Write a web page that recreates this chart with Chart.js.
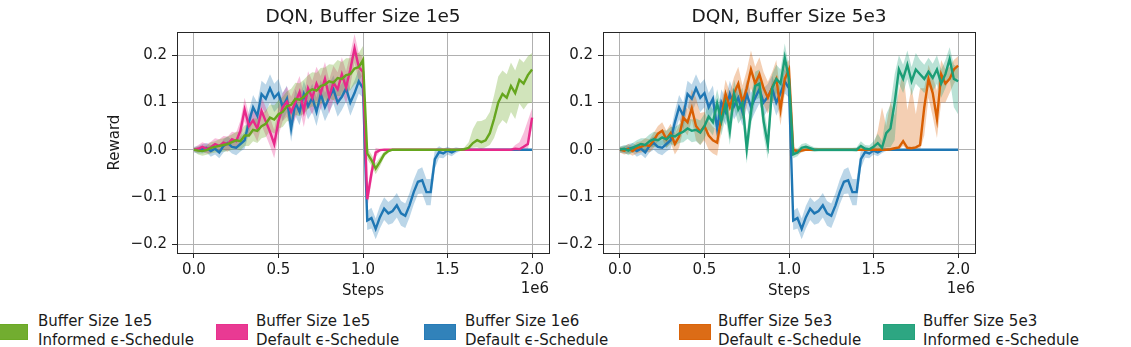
<!DOCTYPE html>
<html>
<head>
<meta charset="utf-8">
<script src="https://cdn.jsdelivr.net/npm/chart.js@4.4.1/dist/chart.umd.min.js"></script>
<style>
  body { margin: 0; background: #fff; }
  #wrap { position: relative; width: 1131px; height: 347px; overflow: hidden; background: #fff; font-family: 'DejaVu Sans', sans-serif; color: #1a1a1a; }
  canvas { position: absolute; top: 0; }
  .sw { position: absolute; top: 324px; width: 32px; height: 16px; box-sizing: border-box; }
  .tx { position: absolute; top: 312px; font-size: 15px; line-height: 19px; white-space: nowrap; }
</style>
</head>
<body>
<div id="wrap">
  <canvas id="left" width="565" height="300" style="left:0px"></canvas>
  <canvas id="right" width="581" height="300" style="left:550px"></canvas>
  <div id="legend"></div>
</div>
<script>
// steps are in units of 1e6
let steps = [0,0.025,0.05,0.075,0.1,0.125,0.15,0.175,0.2,0.225,
  0.25,0.275,0.3,0.325,0.35,0.375,0.4,0.425,0.45,0.475,
  0.5,0.525,0.55,0.575,0.6,0.625,0.65,0.675,0.7,0.725,
  0.75,0.775,0.8,0.825,0.85,0.875,0.9,0.925,0.95,0.975,
  1,1.025,1.05,1.075,1.1,1.125,1.15,1.175,1.2,1.225,
  1.25,1.275,1.3,1.325,1.35,1.375,1.4,1.425,1.45,1.475,
  1.5,1.525,1.55,1.575,1.6,1.625,1.65,1.675,1.7,1.725,
  1.75,1.775,1.8,1.825,1.85,1.875,1.9,1.925,1.95,1.975,
  2];
let xTicks = [0, 0.5, 1, 1.5, 2];
let yTicks = [-0.2, -0.1, 0, 0.1, 0.2];

// Buffer Size 1e5, informed schedule
let greenMean = [0,-0.002,-0.003,-0.001,0.004,0.006,0.008,0.010,0.012,0.016,
  0.020,0.018,0.030,0.030,0.042,0.040,0.050,0.055,0.068,0.064,
  0.075,0.080,0.092,0.095,0.108,0.106,0.112,0.122,0.128,0.125,
  0.135,0.138,0.145,0.142,0.152,0.150,0.158,0.160,0.172,0.175,
  0.190,-0.008,-0.022,-0.040,-0.026,-0.010,-0.003,0,0,0,
  0,0,0,0,0,0,0,0,0,0,
  0,0,0,0,0.001,0.004,0.014,0.020,0.016,0.020,
  0.035,0.065,0.100,0.118,0.110,0.135,0.120,0.148,0.140,0.158,
  0.170];
let greenUp = [0.004,0.008,0.010,0.010,0.012,0.012,0.014,0.014,0.016,0.016,
  0.018,0.020,0.022,0.022,0.024,0.026,0.026,0.028,0.028,0.030,
  0.030,0.032,0.032,0.034,0.034,0.035,0.036,0.036,0.036,0.038,
  0.038,0.036,0.036,0.038,0.038,0.036,0.036,0.034,0.034,0.030,
  0.030,0.012,0.012,0.012,0.010,0.006,0.003,0.001,0.001,0.001,
  0.001,0.001,0.001,0.001,0.001,0.001,0.001,0.001,0.001,0.001,
  0.001,0.001,0.001,0.001,0.004,0.012,0.030,0.040,0.045,0.045,
  0.045,0.050,0.055,0.050,0.050,0.050,0.048,0.045,0.045,0.040,
  0.035];
let greenDown = [0.004,0.008,0.010,0.010,0.012,0.012,0.014,0.014,0.016,0.016,
  0.018,0.020,0.022,0.022,0.024,0.026,0.026,0.028,0.028,0.030,
  0.030,0.032,0.032,0.034,0.034,0.035,0.036,0.036,0.036,0.038,
  0.038,0.036,0.036,0.038,0.038,0.036,0.036,0.034,0.034,0.030,
  0.030,0.012,0.012,0.012,0.010,0.006,0.003,0.001,0.001,0.001,
  0.001,0.001,0.001,0.001,0.001,0.001,0.001,0.001,0.001,0.001,
  0.001,0.001,0.001,0.001,0.001,0.004,0.010,0.015,0.015,0.015,
  0.025,0.040,0.050,0.055,0.055,0.055,0.055,0.050,0.055,0.060,
  0.070];

// Buffer Size 1e5, default schedule
let pinkMean = [0,0.002,0.006,0.002,0.005,0.012,0.008,0.015,0.012,0.022,
  0.018,0.040,0.085,0.050,0.062,0.045,0.082,0.060,0.038,0.012,
  0.060,0.090,0.102,0.080,0.100,0.122,0.082,0.130,0.110,0.140,
  0.120,0.150,0.112,0.142,0.128,0.160,0.132,0.170,0.215,0.175,
  0.165,-0.105,-0.050,-0.006,-0.001,0,0,0,0,0,
  0,0,0,0,0,0,0,0,0,0,
  0,0,0,0,0,0,0,0,0,0,
  0,0,0,0,0,0,0.002,0.001,0.006,0.012,
  0.068];
let pinkUp = [0.004,0.008,0.010,0.010,0.012,0.012,0.014,0.014,0.016,0.016,
  0.018,0.022,0.025,0.025,0.026,0.028,0.030,0.030,0.030,0.030,
  0.030,0.030,0.032,0.032,0.034,0.034,0.034,0.036,0.036,0.036,
  0.036,0.036,0.036,0.036,0.036,0.036,0.034,0.034,0.030,0.030,
  0.030,0.015,0.020,0.010,0.003,0.001,0.001,0.001,0.001,0.001,
  0.001,0.001,0.001,0.001,0.001,0.001,0.001,0.001,0.001,0.001,
  0.001,0.001,0.001,0.001,0.001,0.001,0.001,0.001,0.001,0.001,
  0.001,0.001,0.001,0.001,0.001,0.001,0.008,0.015,0.030,0.050,
  0.020];
let pinkDown = [0.004,0.008,0.010,0.010,0.012,0.012,0.014,0.014,0.016,0.016,
  0.018,0.022,0.025,0.025,0.026,0.028,0.030,0.030,0.030,0.030,
  0.030,0.030,0.032,0.032,0.034,0.034,0.034,0.036,0.036,0.036,
  0.036,0.036,0.036,0.036,0.036,0.036,0.034,0.034,0.030,0.030,
  0.030,0.020,0.020,0.010,0.003,0.001,0.001,0.001,0.001,0.001,
  0.001,0.001,0.001,0.001,0.001,0.001,0.001,0.001,0.001,0.001,
  0.001,0.001,0.001,0.001,0.001,0.001,0.001,0.001,0.001,0.001,
  0.001,0.001,0.001,0.001,0.001,0.001,0.002,0.001,0.006,0.012,
  0.020];

// Buffer Size 1e6, default schedule (same run in both panels)
let blueMean = [0,0,0.002,0.004,-0.003,0.002,-0.006,0.008,0.014,0.006,
  0.004,0.012,0.020,0.058,0.090,0.072,0.118,0.108,0.130,0.110,
  0.120,0.090,0.108,0.045,0.100,0.080,0.118,0.092,0.110,0.080,
  0.118,0.090,0.110,0.128,0.100,0.112,0.130,0.100,0.120,0.145,
  0.130,-0.150,-0.145,-0.168,-0.143,-0.125,-0.135,-0.130,-0.118,-0.135,
  -0.140,-0.118,-0.090,-0.068,-0.065,-0.090,-0.090,-0.020,-0.005,-0.008,
  -0.002,-0.006,-0.001,0,0,0,0,0,0,0,
  0,0,0,0,0,0,0,0,0,0,
  0];
let blueUp = [0.006,0.008,0.010,0.010,0.012,0.012,0.012,0.014,0.014,0.014,
  0.016,0.016,0.018,0.024,0.026,0.028,0.028,0.030,0.030,0.030,
  0.030,0.030,0.028,0.028,0.028,0.028,0.028,0.028,0.030,0.030,
  0.030,0.030,0.030,0.030,0.030,0.028,0.028,0.028,0.026,0.026,
  0.020,0.020,0.022,0.022,0.024,0.024,0.024,0.026,0.026,0.026,
  0.026,0.026,0.026,0.026,0.028,0.028,0.028,0.020,0.012,0.010,
  0.008,0.008,0.006,0.003,0.002,0,0,0,0,0,
  0,0,0,0,0,0,0,0,0,0,
  0];
let blueDown = blueUp;

// Buffer Size 5e3, default schedule
let orangeMean = [0,-0.002,0.002,-0.003,0.004,0.006,0.010,0.008,0.020,0.034,
  0.040,0.022,0.035,0.012,0.028,0.068,0.058,0.088,0.050,0.038,
  0.050,0.030,0.020,0.015,0.068,0.118,0.090,0.120,0.140,0.100,
  0.130,0.170,0.140,0.160,0.130,0.110,0.132,0.150,0.085,0.150,
  0.170,0,-0.004,-0.002,0,0,0,0,0,0,
  0,0,0,0,0,0,0,0,0,0,
  0,0,0,0,0.001,0.003,0.005,0.018,0.004,0.003,
  0.005,0.010,0.090,0.150,0.120,0.065,0.160,0.140,0.150,0.170,
  0.178];
let orangeUp = [0.006,0.008,0.010,0.010,0.012,0.012,0.014,0.014,0.016,0.016,
  0.018,0.018,0.020,0.022,0.024,0.026,0.028,0.040,0.060,0.040,
  0.030,0.030,0.028,0.028,0.030,0.030,0.032,0.034,0.036,0.036,
  0.038,0.040,0.036,0.036,0.034,0.034,0.032,0.040,0.034,0.030,
  0.020,0.006,0.006,0.004,0.003,0.002,0.002,0.002,0.002,0.002,
  0.002,0.002,0.002,0.002,0.002,0.002,0.002,0.002,0.002,0.002,
  0.010,0.040,0.090,0.050,0.100,0.070,0.120,0.150,0.080,0.130,
  0.070,0.120,0.040,0.030,0.035,0.060,0.030,0.030,0.025,0.020,
  0.020];
let orangeDown = [0.006,0.008,0.010,0.010,0.012,0.012,0.014,0.014,0.016,0.016,
  0.018,0.018,0.020,0.022,0.024,0.026,0.028,0.025,0.030,0.028,
  0.030,0.030,0.028,0.028,0.030,0.030,0.032,0.034,0.036,0.036,
  0.038,0.040,0.036,0.036,0.034,0.034,0.032,0.040,0.034,0.030,
  0.020,0.006,0.006,0.004,0.003,0.002,0.002,0.002,0.002,0.002,
  0.002,0.002,0.002,0.002,0.002,0.002,0.002,0.002,0.002,0.002,
  0.002,0.002,0.002,0.002,0.002,0.003,0.005,0.010,0.004,0.003,
  0.005,0.010,0.060,0.040,0.050,0.040,0.060,0.040,0.030,0.030,
  0.025];

// Buffer Size 5e3, informed schedule
let tealMean = [0,0.002,-0.002,0.004,0.008,0.012,0.010,0.018,0.022,0.020,
  0.026,0.022,0.030,0.028,0.034,0.038,0.045,0.040,0.042,0.036,
  0.050,0.070,0.058,0.098,0.060,0.098,0.040,0.118,0.085,0.100,
  0.002,0.080,0.135,0.140,0.060,0.010,0.130,0.150,0.140,0.195,
  0.150,-0.010,-0.006,0.004,0.006,0.003,0,0,0,0,
  0,0,0,0,0,0,0,0.008,0.002,0.001,
  0.006,0.014,0.004,0.035,0.045,0.100,0.170,0.150,0.180,0.145,
  0.170,0.160,0.150,0.165,0.152,0.170,0.140,0.160,0.192,0.150,
  0.145];
let tealUp = [0.006,0.008,0.010,0.010,0.012,0.012,0.014,0.014,0.016,0.016,
  0.016,0.018,0.018,0.020,0.020,0.022,0.022,0.024,0.024,0.026,
  0.026,0.028,0.028,0.030,0.030,0.030,0.030,0.030,0.030,0.032,
  0.032,0.030,0.030,0.030,0.030,0.030,0.030,0.030,0.030,0.030,
  0.025,0.008,0.008,0.008,0.008,0.006,0.005,0.004,0.004,0.004,
  0.004,0.004,0.004,0.004,0.004,0.004,0.005,0.010,0.008,0.008,
  0.012,0.020,0.015,0.040,0.050,0.060,0.030,0.030,0.030,0.030,
  0.035,0.030,0.030,0.030,0.030,0.030,0.030,0.030,0.025,0.030,
  0.030];
let tealDown = [0.006,0.008,0.010,0.010,0.012,0.012,0.014,0.014,0.016,0.016,
  0.016,0.018,0.018,0.020,0.020,0.022,0.022,0.024,0.024,0.026,
  0.026,0.028,0.028,0.030,0.030,0.030,0.030,0.030,0.030,0.032,
  0.032,0.030,0.030,0.030,0.030,0.030,0.030,0.030,0.030,0.030,
  0.025,0.008,0.008,0.008,0.008,0.006,0.005,0.004,0.004,0.004,
  0.004,0.004,0.004,0.004,0.004,0.004,0.005,0.006,0.002,0.001,
  0.006,0.014,0.004,0.030,0.040,0.080,0.030,0.030,0.030,0.030,
  0.030,0.030,0.030,0.030,0.030,0.030,0.030,0.030,0.040,0.060,
  0.070];

let colors = {
  green: '#66a61e', pink: '#e7298a', blue: '#1f77b4', orange: '#d95f02', teal: '#1b9e77'
};
let legendItems = [
  ['green', 'Buffer Size 1e5', 'Informed \u03f5-Schedule'],
  ['pink', 'Buffer Size 1e5', 'Default \u03f5-Schedule'],
  ['blue', 'Buffer Size 1e6', 'Default \u03f5-Schedule'],
  ['orange', 'Buffer Size 5e3', 'Default \u03f5-Schedule'],
  ['teal', 'Buffer Size 5e3', 'Informed \u03f5-Schedule']
];
let legendSwatchX = [-4, 216, 424, 679, 883];
let legendTextX = [38, 256, 465, 718, 923];

Chart.defaults.font.family = "'DejaVu Sans', sans-serif";
Chart.defaults.color = '#1a1a1a';

function alpha(hex, a) {
  let n = parseInt(hex.slice(1), 16);
  return 'rgba(' + (n >> 16) + ',' + ((n >> 8) & 255) + ',' + (n & 255) + ',' + a + ')';
}

function lineSet(mean, color) {
  return {
    data: steps.map((x, i) => ({x: x, y: mean[i]})),
    borderColor: color, borderWidth: 2.4, pointRadius: 0, fill: false, tension: 0
  };
}

function bandSets(mean, up, down, color) {
  return [
    {data: steps.map((x, i) => ({x: x, y: mean[i] - down[i]})),
     borderWidth: 0, borderColor: 'transparent', pointRadius: 0, fill: false},
    {data: steps.map((x, i) => ({x: x, y: mean[i] + up[i]})),
     borderWidth: 0, borderColor: 'transparent', pointRadius: 0, fill: '-1',
     backgroundColor: alpha(color, 0.3)}
  ];
}

let framePlugin = {
  id: 'frame',
  afterDatasetsDraw(chart) {
    let a = chart.chartArea, ctx = chart.ctx;
    ctx.save();
    ctx.strokeStyle = '#262626';
    ctx.lineWidth = 1;
    ctx.strokeRect(Math.round(a.left) + 0.5, Math.round(a.top) + 0.5,
      Math.round(a.right - a.left), Math.round(a.bottom - a.top));
    ctx.restore();
  }
};

let offsetPlugin = {
  id: 'offsetText',
  afterDraw(chart) {
    let ctx = chart.ctx;
    ctx.save();
    ctx.font = "15px 'DejaVu Sans'";
    ctx.fillStyle = '#1a1a1a';
    ctx.textAlign = 'right';
    ctx.textBaseline = 'middle';
    ctx.fillText('1e6', chart.chartArea.right, 289);
    ctx.restore();
  }
};

function makeChart(id, title, datasets, pad, yWidth, yTitle) {
  return new Chart(document.getElementById(id).getContext('2d'), {
    type: 'line',
    data: {datasets: datasets},
    options: {
      responsive: false,
      animation: false,
      events: [],
      layout: {padding: pad},
      plugins: {
        legend: {display: false},
        tooltip: {enabled: false},
        title: {
          display: true, text: title, fullSize: false,
          font: {size: 18.5, weight: 'normal'}, color: '#1a1a1a',
          padding: {top: 6, bottom: 4}
        }
      },
      scales: {
        x: {
          type: 'linear', min: -0.1, max: 2.1,
          afterBuildTicks: s => { s.ticks = xTicks.map(v => ({value: v})); },
          afterFit: s => { s.height = 47; },
          ticks: {callback: v => v.toFixed(1), font: {size: 15}, padding: 3, maxRotation: 0, autoSkip: false},
          grid: {color: '#b0b0b0', lineWidth: 1, tickColor: '#262626', tickLength: 5},
          border: {display: false},
          title: {display: true, text: 'Steps', font: {size: 15}, padding: 0}
        },
        y: {
          min: -0.219, max: 0.249,
          afterBuildTicks: s => { s.ticks = yTicks.map(v => ({value: v})); },
          afterFit: s => { s.width = yWidth; },
          ticks: {callback: v => v.toFixed(1).replace('-', '\u2212'), font: {size: 15}, padding: 5, autoSkip: false},
          grid: {color: '#b0b0b0', lineWidth: 1, tickColor: '#262626', tickLength: 5},
          border: {display: false},
          title: {display: yTitle, text: 'Reward', font: {size: 15}, padding: 0}
        }
      }
    },
    plugins: [framePlugin, offsetPlugin]
  });
}

let leftSets = [
  lineSet(greenMean, colors.green),
  lineSet(pinkMean, colors.pink),
  lineSet(blueMean, colors.blue)
].concat(
  bandSets(greenMean, greenUp, greenDown, colors.green),
  bandSets(pinkMean, pinkUp, pinkDown, colors.pink),
  bandSets(blueMean, blueUp, blueDown, colors.blue)
);

let rightSets = [
  lineSet(tealMean, colors.teal),
  lineSet(orangeMean, colors.orange),
  lineSet(blueMean, colors.blue)
].concat(
  bandSets(tealMean, tealUp, tealDown, colors.teal),
  bandSets(orangeMean, orangeUp, orangeDown, colors.orange),
  bandSets(blueMean, blueUp, blueDown, colors.blue)
);

makeChart('left', 'DQN, Buffer Size 1e5', leftSets, {left: 106, right: 16, top: 0, bottom: 0}, 71, true);
makeChart('right', 'DQN, Buffer Size 5e3', rightSets, {left: 0, right: 156, top: 0, bottom: 0}, 53, false);

let legend = document.getElementById('legend');
legendItems.forEach(function(item, i) {
  let sw = document.createElement('div');
  sw.className = 'sw';
  sw.style.left = legendSwatchX[i] + 'px';
  sw.style.background = alpha(colors[item[0]], 0.92);
  sw.style.border = '1px solid ' + alpha(colors[item[0]], 0.55);
  legend.appendChild(sw);
  let tx = document.createElement('div');
  tx.className = 'tx';
  tx.style.left = legendTextX[i] + 'px';
  tx.innerHTML = item[1] + '<br>' + item[2];
  legend.appendChild(tx);
});
</script>
</body>
</html>
